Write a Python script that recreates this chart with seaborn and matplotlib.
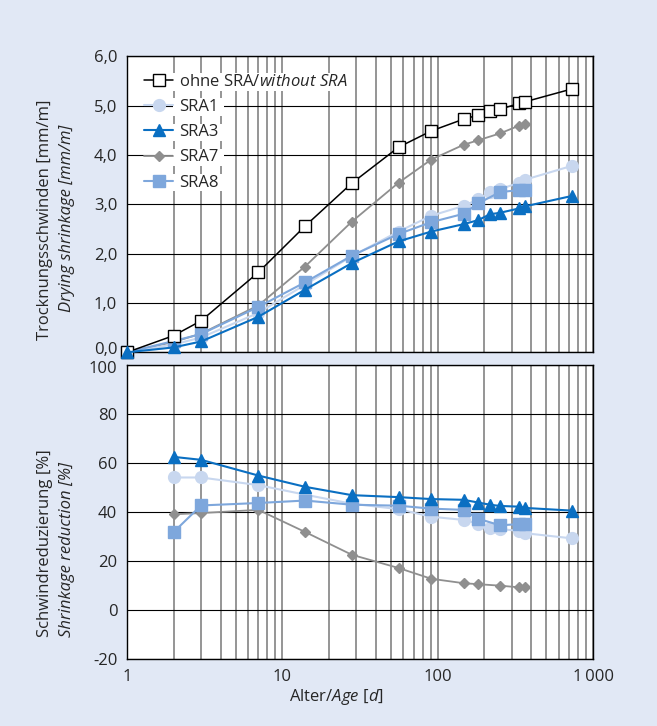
import numpy as np
import pandas as pd
import matplotlib
matplotlib.use('Agg')
import matplotlib.pyplot as plt
import matplotlib.transforms as mtransforms
from matplotlib.patches import Rectangle
from matplotlib.ticker import LogLocator, FixedLocator, FuncFormatter, NullFormatter
import seaborn as sns

# Ages in days
days = [1, 2, 3, 7, 14, 28, 56, 91, 147, 182, 217, 252, 336, 364, 728]
days_short = [1, 2, 3, 7, 14, 28, 56, 91, 147, 182, 252, 336, 364]

# Drying shrinkage [mm/m]
shr_ohne = [0, 0.34, 0.64, 1.62, 2.56, 3.43, 4.16, 4.49, 4.73, 4.81, 4.89, 4.93, 5.05, 5.08, 5.34]
shr_sra1 = [0, 0.16, 0.30, 0.80, 1.37, 1.95, 2.45, 2.77, 2.97, 3.10, 3.25, 3.31, 3.44, 3.50, 3.78]
shr_sra3 = [0, 0.10, 0.22, 0.72, 1.27, 1.81, 2.25, 2.45, 2.60, 2.68, 2.80, 2.83, 2.92, 2.96, 3.17]
shr_sra7 = [0, 0.21, 0.38, 0.95, 1.74, 2.65, 3.44, 3.91, 4.21, 4.30, 4.44, 4.60, 4.63]
shr_sra8 = [0, 0.23, 0.37, 0.92, 1.42, 1.96, 2.40, 2.64, 2.81, 3.02, 3.25, 3.29, 3.30]

# Shrinkage reduction [%] (from day 2 on)
red_sra1 = [54.0, 54.0, 50.9, 47.0, 43.3, 41.1, 38.0, 36.7, 35.2, 33.6, 33.0, 32.2, 31.3, 29.2]
red_sra3 = [62.4, 61.2, 54.8, 50.2, 46.8, 46.0, 45.2, 44.9, 43.8, 42.9, 42.4, 42.1, 41.6, 40.5]
red_sra7 = [39.0, 39.5, 40.8, 31.8, 22.5, 17.1, 12.7, 10.9, 10.5, 9.9, 9.2, 9.2]
red_sra8 = [31.8, 42.6, 43.6, 44.6, 42.9, 42.5, 41.3, 40.8, 37.2, 34.5, 35.0, 35.2]

top_yticks = [0, 1, 2, 3, 4, 5, 6]
bot_yticks = [-20, 0, 20, 40, 60, 80, 100]

sns.set_style('white')
plt.rcParams['font.family'] = ['Open Sans', 'DejaVu Sans']
plt.rcParams['mathtext.fontset'] = 'custom'
plt.rcParams['mathtext.rm'] = 'Open Sans'
plt.rcParams['mathtext.it'] = 'Open Sans:italic'
plt.rcParams['axes.unicode_minus'] = False

fs = 12
bg = '#e1e8f5'
fig = plt.figure(figsize=(6.57, 7.26), dpi=100, facecolor=bg)
ax1 = fig.add_axes([0.1933, 0.5147, 0.7093, 0.4075])
ax2 = fig.add_axes([0.1933, 0.0923, 0.7093, 0.4054])

# name: colour, marker, size, face, linewidth, zorder
styles = {
    'ohne': ('black', 's', 8, 'white', 1.1, 5),
    'SRA1': ('#c8d7ef', 'o', 8.5, '#c8d7ef', 1.5, 3),
    'SRA3': ('#0a6fc2', '^', 8.5, '#0a6fc2', 1.5, 6),
    'SRA7': ('#8f8f8f', 'D', 5, '#8f8f8f', 1.3, 2),
    'SRA8': ('#7ea7dc', 's', 8, '#7ea7dc', 1.5, 4),
}
labels = {
    'ohne': r'ohne SRA/$\mathit{without\ SRA}$',
    'SRA1': 'SRA1', 'SRA3': 'SRA3', 'SRA7': 'SRA7', 'SRA8': 'SRA8',
}


def draw(ax, name, x, y):
    c, m, ms, fc, lw, z = styles[name]
    sns.lineplot(x=x, y=y, ax=ax, color=c, marker=m, markersize=ms,
                 markerfacecolor=fc, markeredgecolor=c, markeredgewidth=1.0,
                 linewidth=lw, zorder=z, clip_on=False, label=labels[name],
                 estimator=None, sort=False)


draw(ax1, 'ohne', days, shr_ohne)
draw(ax1, 'SRA1', days, shr_sra1)
draw(ax1, 'SRA3', days, shr_sra3)
draw(ax1, 'SRA7', days_short, shr_sra7)
draw(ax1, 'SRA8', days_short, shr_sra8)

draw(ax2, 'SRA1', days[1:], red_sra1)
draw(ax2, 'SRA3', days[1:], red_sra3)
draw(ax2, 'SRA7', days_short[1:], red_sra7)
draw(ax2, 'SRA8', days_short[1:], red_sra8)
ax2.get_legend().remove()

for ax in (ax1, ax2):
    ax.set_facecolor('white')
    ax.set_xscale('log')
    ax.set_xlim(1, 1000)
    ax.xaxis.set_major_locator(FixedLocator([1, 10, 100, 1000]))
    ax.xaxis.set_minor_locator(LogLocator(base=10, subs=np.arange(2, 10)))
    ax.xaxis.set_minor_formatter(NullFormatter())
    ax.set_axisbelow(True)
    ax.grid(which='both', axis='x', color='#787878', linewidth=1.1)
    ax.grid(which='major', axis='y', color='black', linewidth=0.8)
    for s in ax.spines.values():
        s.set_color('black')
        s.set_linewidth(1.0)
        s.set_zorder(1)
    ax.tick_params(axis='x', which='both', length=0, labelsize=fs, pad=7)
    ax.tick_params(axis='y', length=4, width=0.8, color='black', labelsize=fs, pad=3)
    ax.set_xlabel('')
    ax.set_ylabel('')

ax1.set_ylim(0, 6)
ax1.set_yticks(top_yticks)
ax1.yaxis.set_major_formatter(FuncFormatter(lambda v, p: f'{v:.1f}'.replace('.', ',')))
ax1.set_xticklabels([])

ax2.set_ylim(-20, 100)
ax2.set_yticks(bot_yticks)
ax2.set_xticklabels(['1', '10', '100', '1\u2009000'])

# keep "0,0" and "100" from touching where the panels meet
up = mtransforms.ScaledTranslation(0, 3 / 72, fig.dpi_scale_trans)
down = mtransforms.ScaledTranslation(0, -2 / 72, fig.dpi_scale_trans)
lab0 = ax1.get_yticklabels()[0]
lab0.set_transform(lab0.get_transform() + up)
lab100 = ax2.get_yticklabels()[-1]
lab100.set_transform(lab100.get_transform() + down)

# legend in the original order
handles, lbls = ax1.get_legend_handles_labels()
leg = ax1.legend(handles, lbls, loc='upper left', bbox_to_anchor=(0.0, 1.0),
                 frameon=False, fontsize=fs, handlelength=1.7, handletextpad=0.35,
                 labelspacing=0.55, borderaxespad=0.3, borderpad=0.75)
leg.set_zorder(10)

# white boxes behind legend entries (gridlines hidden only there)
fig.canvas.draw()
inv = ax1.transAxes.inverted()
for t in leg.get_texts():
    bb = t.get_window_extent().expanded(1.0, 1.1).transformed(inv)
    ax1.add_patch(Rectangle((bb.x0 - 0.012, bb.y0), bb.width + 0.024, bb.height,
                            transform=ax1.transAxes, facecolor='white', edgecolor='none',
                            zorder=1.5, clip_on=False))

# y-axis labels (two lines, second italic)
fig.text(0.0685, 0.698, 'Trocknungsschwinden [mm/m]', rotation=90, ha='center', va='center', fontsize=fs)
fig.text(0.102, 0.699, 'Drying shrinkage [mm/m]', rotation=90, ha='center', va='center',
         fontsize=fs, style='italic')
fig.text(0.0685, 0.1226, 'Schwindreduzierung [%]', rotation=90, ha='center', va='bottom', fontsize=fs)
fig.text(0.102, 0.1226, 'Shrinkage reduction [%]', rotation=90, ha='center', va='bottom',
         fontsize=fs, style='italic')

fig.text(0.512, 0.040, r'Alter/$\mathit{Age\ [d]}$', ha='center', va='center', fontsize=fs)

fig.savefig('out.png', dpi=100, facecolor=bg)
